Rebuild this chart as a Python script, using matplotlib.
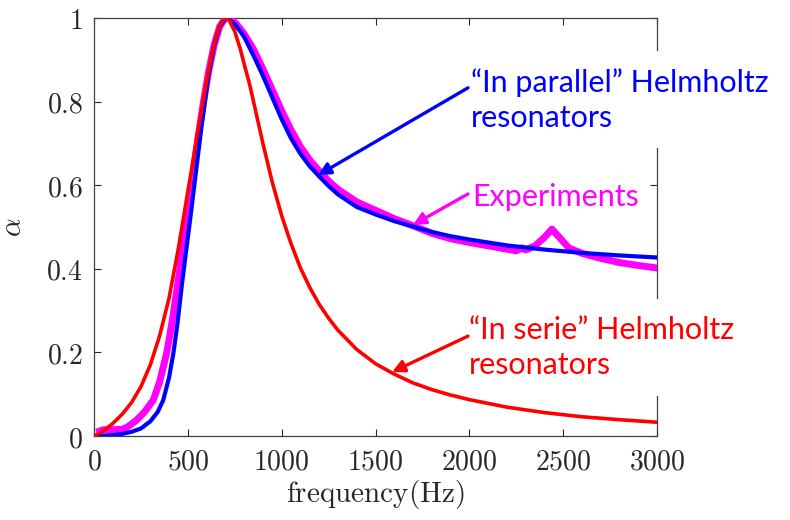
import matplotlib
matplotlib.use("Agg")
import matplotlib.pyplot as plt

plt.rcParams['mathtext.fontset'] = 'cm'

# ---- data ----
freq_red = [0, 50, 100, 150, 200, 250, 300, 350, 400, 450, 500, 550, 600, 630, 660, 680,
            700, 720, 750, 780, 800, 830, 860, 900, 950, 1000, 1050, 1100, 1150, 1200,
            1250, 1300, 1400, 1500, 1600, 1700, 1800, 1900, 2000, 2200, 2400, 2600, 2800, 3000]
alpha_serie = [0.0, 0.012, 0.03, 0.052, 0.08, 0.118, 0.17, 0.24, 0.33, 0.45, 0.585, 0.72,
               0.85, 0.92, 0.97, 0.99, 1.0, 0.995, 0.968, 0.925, 0.89, 0.84, 0.78, 0.70,
               0.607, 0.527, 0.46, 0.402, 0.355, 0.315, 0.282, 0.253, 0.207, 0.173, 0.148,
               0.127, 0.111, 0.098, 0.087, 0.069, 0.056, 0.046, 0.039, 0.033]

freq_blue = [0, 100, 150, 200, 250, 300, 340, 369, 400, 423, 445, 467, 490, 512, 540, 570,
             609, 640, 670, 700, 720, 750, 780, 800, 850, 900, 950, 1000, 1050, 1100, 1150,
             1200, 1250, 1300, 1400, 1500, 1600, 1700, 1800, 1900, 2000, 2200, 2400, 2600,
             2800, 3000]
alpha_parallel = [0.0, 0.002, 0.005, 0.01, 0.018, 0.035, 0.058, 0.086, 0.14, 0.198, 0.27,
                  0.357, 0.44, 0.517, 0.62, 0.73, 0.86, 0.935, 0.98, 1.0, 0.997, 0.985,
                  0.968, 0.955, 0.91, 0.862, 0.81, 0.758, 0.712, 0.675, 0.645, 0.621, 0.598,
                  0.578, 0.548, 0.53, 0.514, 0.501, 0.488, 0.478, 0.470, 0.456, 0.446,
                  0.438, 0.432, 0.427]

freq_exp = [30, 50, 100, 150, 180, 227, 270, 316, 350, 387, 415, 444, 470, 494, 520, 550,
            580, 610, 640, 670, 700, 730, 760, 800, 850, 900, 950, 1000, 1050, 1100, 1150,
            1200, 1250, 1300, 1400, 1500, 1600, 1700, 1800, 1900, 2000, 2100, 2200, 2250,
            2280, 2300, 2350, 2400, 2440, 2480, 2530, 2600, 2700, 2800, 2900, 3000]
alpha_exp = [0.012, 0.015, 0.015, 0.016, 0.022, 0.038, 0.058, 0.086, 0.13, 0.198, 0.27,
             0.357, 0.44, 0.517, 0.60, 0.70, 0.79, 0.87, 0.935, 0.98, 1.0, 0.998, 0.985,
             0.962, 0.925, 0.878, 0.828, 0.778, 0.732, 0.692, 0.66, 0.634, 0.61, 0.59,
             0.56, 0.54, 0.52, 0.503, 0.485, 0.472, 0.463, 0.455, 0.447, 0.443, 0.45,
             0.445, 0.455, 0.475, 0.495, 0.475, 0.45, 0.437, 0.425, 0.415, 0.408, 0.402]

xticks = [0, 500, 1000, 1500, 2000, 2500, 3000]
xtick_labels = ['0', '500', '1000', '1500', '2000', '2500', '3000']
yticks = [0, 0.2, 0.4, 0.6, 0.8, 1.0]
ytick_labels = ['0', '0.2', '0.4', '0.6', '0.8', '1']

label_parallel = '\u201cIn parallel\u201d Helmholtz\nresonators'
label_exp = 'Experiments'
label_serie = '\u201cIn serie\u201d Helmholtz\nresonators'

# arrow tips / tails (data coords)
tip_parallel, tail_parallel = (1194, 0.624), (1993, 0.833)
tip_exp, tail_exp = (1700, 0.505), (1993, 0.579)
tip_serie, tail_serie = (1588, 0.153), (1993, 0.239)

# ---- figure ----
W, H = 790, 520
fig = plt.figure(figsize=(W / 100, H / 100), dpi=100)
ax = fig.add_axes([94 / W, 1 - 436 / H, (657 - 94) / W, (436 - 18) / H])

ax.plot(freq_exp, alpha_exp, color='#ff00ff', lw=5, solid_joinstyle='round', zorder=3)
ax.plot(freq_blue, alpha_parallel, color='#0000ff', lw=3, solid_joinstyle='round', zorder=4)
ax.plot(freq_red, alpha_serie, color='#ff0000', lw=2.6, solid_joinstyle='round', zorder=5)

ax.set_xlim(0, 3000)
ax.set_ylim(0, 1)
ax.set_xticks(xticks)
ax.set_xticklabels(['$' + s + '$' for s in xtick_labels])
ax.set_yticks(yticks)
ax.set_yticklabels(['$' + s + '$' for s in ytick_labels])
ax.tick_params(direction='in', length=5, width=0.8, color='#262626',
               top=True, right=True, labelsize=20, labelcolor='#262626')
ax.tick_params(axis='x', pad=8)
ax.tick_params(axis='y', pad=8)
for s in ax.spines.values():
    s.set_color('#404040')
    s.set_linewidth(0.9)

xt = ax.xaxis.get_major_ticks()
xt[1].tick1line.set_color('#ff00ff')
for i in (4, 5, 6):
    xt[i].tick2line.set_color('#ff00ff')

ax.set_xlabel(r'$\mathrm{frequency(Hz)}$', fontsize=21, color='#262626', labelpad=2)
ax.set_ylabel(r'$\alpha$', fontsize=21, color='#262626', labelpad=14)

# arrows
ap = dict(arrowstyle='-|>', lw=2.4, mutation_scale=18, shrinkA=0, shrinkB=0)
ax.annotate('', xy=tip_parallel, xytext=tail_parallel,
            arrowprops=dict(color='#0000ff', **ap), zorder=6)
ax.annotate('', xy=tip_exp, xytext=tail_exp,
            arrowprops=dict(color='#ff00ff', **ap), zorder=6)
ax.annotate('', xy=tip_serie, xytext=tail_serie,
            arrowprops=dict(color='#ff0000', **ap), zorder=6)

# texts: above the spines (2.5) but below curves/arrows
tfont = dict(family='Lato', fontsize=22, fontweight='normal')
bb = dict(facecolor='white', edgecolor='none', pad=12)
ax.text(471 / W, 1 - 68 / H, label_parallel, color='#0000ff', ha='left', va='top',
        linespacing=1.3, bbox=bb, transform=fig.transFigure, clip_on=False,
        zorder=2.7, **tfont)
ax.text(472 / W, 1 - 183 / H, label_exp, color='#ff00ff', ha='left', va='top',
        transform=fig.transFigure, clip_on=False, zorder=2.7, **tfont)
ax.text(469 / W, 1 - 316 / H, label_serie, color='#ff0000', ha='left', va='top',
        linespacing=1.3, bbox=bb, transform=fig.transFigure, clip_on=False,
        zorder=2.7, **tfont)

fig.savefig('out.png', dpi=100)
